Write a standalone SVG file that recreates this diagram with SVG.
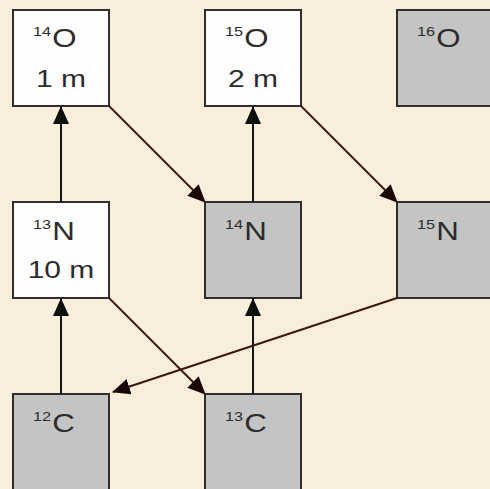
<svg xmlns="http://www.w3.org/2000/svg" width="490" height="489" viewBox="0 0 490 489">
  <style>
    .box rect { stroke: #2e2e2e; stroke-width: 2; }
    .stable rect { fill: #c4c4c4; }
    .unstable rect { fill: #fdfdfd; }
    text { font-family: "Liberation Sans", Arial, sans-serif; fill: #2c2c2c; }
    .sym { font-size: 25px; }
    .sup { font-size: 13px; }
    .life { font-size: 24px; text-anchor: middle; }
    .up { stroke: #151515; stroke-width: 2; fill: none; marker-end: url(#head); }
    .diag { stroke: #3a1712; stroke-width: 2; fill: none; marker-end: url(#head-br); }
  </style>
  <defs>
    <marker id="head" markerWidth="18" markerHeight="16" refX="17" refY="8" orient="auto" markerUnits="userSpaceOnUse">
      <path d="M0,0 L18,8 L0,16 Z" fill="#0e0e0e"/>
    </marker>
    <marker id="head-br" markerWidth="18" markerHeight="16" refX="17" refY="8" orient="auto" markerUnits="userSpaceOnUse">
      <path d="M0,0 L18,8 L0,16 Z" fill="#1a0808"/>
    </marker>
  </defs>

  <rect width="490" height="489" fill="#f9eedb"/>

  <!-- nuclide boxes: white = unstable (with half-life), grey = stable -->
  <g id="o14" class="box unstable">
    <rect x="13" y="10" width="96" height="96"/>
    <text transform="translate(33,47) scale(1.25,1)"><tspan class="sup" dy="-11">14</tspan><tspan class="sym" dy="11" dx="1">O</tspan></text>
    <text class="life" transform="translate(61,87) scale(1.25,1)">1 m</text>
  </g>
  <g id="o15" class="box unstable">
    <rect x="205" y="10" width="96" height="96"/>
    <text transform="translate(225,47) scale(1.25,1)"><tspan class="sup" dy="-11">15</tspan><tspan class="sym" dy="11" dx="1">O</tspan></text>
    <text class="life" transform="translate(253,87) scale(1.25,1)">2 m</text>
  </g>
  <g id="o16" class="box stable">
    <rect x="397" y="10" width="96" height="96"/>
    <text transform="translate(417,47) scale(1.25,1)"><tspan class="sup" dy="-11">16</tspan><tspan class="sym" dy="11" dx="1">O</tspan></text>
  </g>

  <g id="n13" class="box unstable">
    <rect x="13" y="202" width="96" height="96"/>
    <text transform="translate(33,240) scale(1.25,1)"><tspan class="sup" dy="-11">13</tspan><tspan class="sym" dy="11" dx="1">N</tspan></text>
    <text class="life" transform="translate(61,278) scale(1.25,1)">10 m</text>
  </g>
  <g id="n14" class="box stable">
    <rect x="205" y="202" width="96" height="96"/>
    <text transform="translate(225,240) scale(1.25,1)"><tspan class="sup" dy="-11">14</tspan><tspan class="sym" dy="11" dx="1">N</tspan></text>
  </g>
  <g id="n15" class="box stable">
    <rect x="397" y="202" width="96" height="96"/>
    <text transform="translate(417,240) scale(1.25,1)"><tspan class="sup" dy="-11">15</tspan><tspan class="sym" dy="11" dx="1">N</tspan></text>
  </g>

  <g id="c12" class="box stable">
    <rect x="13" y="394" width="96" height="96"/>
    <text transform="translate(33,432) scale(1.25,1)"><tspan class="sup" dy="-11">12</tspan><tspan class="sym" dy="11" dx="1">C</tspan></text>
  </g>
  <g id="c13" class="box stable">
    <rect x="205" y="394" width="96" height="96"/>
    <text transform="translate(225,432) scale(1.25,1)"><tspan class="sup" dy="-11">13</tspan><tspan class="sym" dy="11" dx="1">C</tspan></text>
  </g>

  <!-- reactions: proton capture (up), beta decay (diagonal), (p,α) back to carbon -->
  <g id="connectors">
    <line class="up" x1="61" y1="202" x2="61" y2="107"/>
    <line class="up" x1="61" y1="394" x2="61" y2="299"/>
    <line class="up" x1="253" y1="202" x2="253" y2="107"/>
    <line class="up" x1="253" y1="394" x2="253" y2="299"/>
    <line class="diag" x1="109" y1="106" x2="205" y2="202"/>
    <line class="diag" x1="301" y1="106" x2="397" y2="202"/>
    <line class="diag" x1="109" y1="298" x2="205" y2="394"/>
    <line class="diag" x1="397" y1="298" x2="113" y2="392"/>
  </g>
</svg>
